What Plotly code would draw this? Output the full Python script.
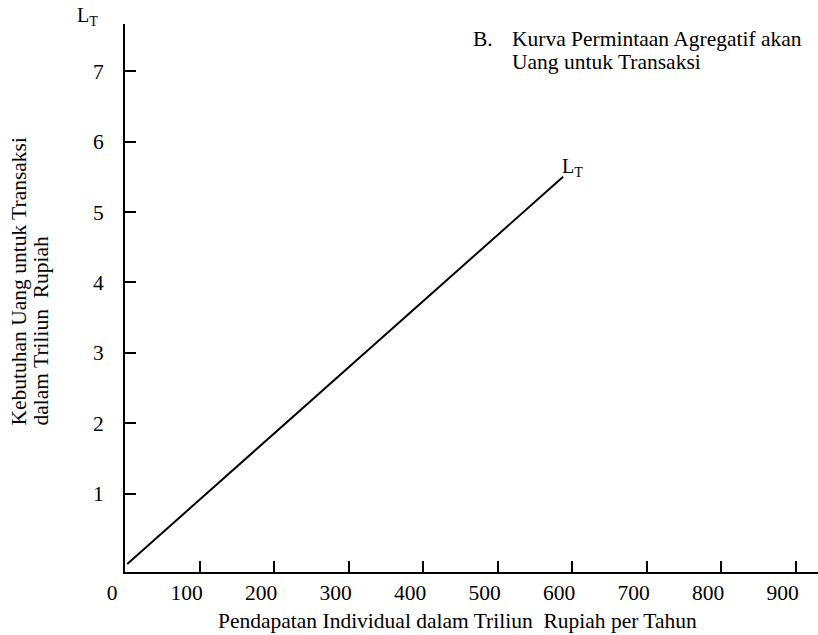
import plotly.graph_objects as go

# Data
income = [3, 588]                 # Pendapatan (triliun Rp per tahun)
money_demand = [0, 5.5]           # Kebutuhan uang transaksi (triliun Rp)
x_ticks = [0, 100, 200, 300, 400, 500, 600, 700, 800, 900]
y_ticks = [1, 2, 3, 4, 5, 6, 7]
curve_label = "L<sub>T</sub>"
title_lines = ["Kurva Permintaan Agregatif akan", "Uang untuk Transaksi"]
title_marker = "B."
x_title = "Pendapatan Individual dalam Triliun \u00a0Rupiah per Tahun"
y_title_lines = ["Kebutuhan Uang untuk Transaksi", "dalam Triliun \u00a0Rupiah"]

FONT = "Liberation Serif"
FS = 21.5
W, H = 818, 635
L, R, T, B = 125, 0, 24, 63
PW, PH = W - L - R, H - T - B


def px(x):
    return (x - L) / PW


def py(y):
    return (H - B - y) / PH


fig = go.Figure()
fig.add_trace(go.Scatter(x=income, y=money_demand, mode="lines",
                         line=dict(color="black", width=2), showlegend=False,
                         hoverinfo="skip"))

ann = []
# curve end label
ann.append(dict(x=income[-1], y=money_demand[-1], xref="x", yref="y",
                text=curve_label, showarrow=False, xanchor="left", yanchor="bottom",
                xshift=-3, yshift=-5, font=dict(family=FONT, size=20, color="black")))
# axis label at the top of y axis
ann.append(dict(x=px(75), y=py(16), xref="paper", yref="paper",
                text=curve_label, showarrow=False, xanchor="left", yanchor="middle",
                font=dict(family=FONT, size=20, color="black")))
# title block
ann.append(dict(x=px(471), y=py(39), xref="paper", yref="paper", text=title_marker,
                showarrow=False, xanchor="left", yanchor="middle",
                font=dict(family=FONT, size=FS, color="black")))
for i, line in enumerate(title_lines):
    ann.append(dict(x=px(510), y=py(39 + 23 * i), xref="paper", yref="paper", text=line,
                    showarrow=False, xanchor="left", yanchor="middle",
                    font=dict(family=FONT, size=FS, color="black")))
# y title (two rotated lines, aligned at their start)
for i, line in enumerate(y_title_lines):
    ann.append(dict(x=px(18.5 + 22 * i), y=py(428), xref="paper", yref="paper", text=line,
                    showarrow=False, textangle=-90, xanchor="center", yanchor="bottom",
                    font=dict(family=FONT, size=FS, color="black")))
# x title
ann.append(dict(x=px(457), y=py(621), xref="paper", yref="paper", text=x_title,
                showarrow=False, xanchor="center", yanchor="middle",
                font=dict(family=FONT, size=FS, color="black")))

fig.update_layout(
    width=W, height=H,
    margin=dict(l=L, r=R, t=T, b=B),
    paper_bgcolor="white", plot_bgcolor="white",
    font=dict(family=FONT, size=FS, color="black"),
    annotations=ann,
    xaxis=dict(range=[0, 930], tickvals=x_ticks, ticktext=[str(v) for v in x_ticks],
               ticks="inside", ticklen=11, tickwidth=2, tickcolor="black",
               showline=True, linecolor="black", linewidth=2,
               showgrid=False, zeroline=False, ticklabelshift=-13,
               ticklabelstandoff=0, fixedrange=True),
    yaxis=dict(range=[-0.114, 7.67], tickvals=y_ticks, ticktext=[str(v) for v in y_ticks],
               ticks="inside", ticklen=11, tickwidth=2, tickcolor="black",
               showline=True, linecolor="black", linewidth=2,
               showgrid=False, zeroline=False, ticklabelstandoff=15, fixedrange=True),
)

fig.write_html("out.html", config={"displayModeBar": False},
               post_script="document.body.style.margin='0';document.body.style.overflow='hidden';")
